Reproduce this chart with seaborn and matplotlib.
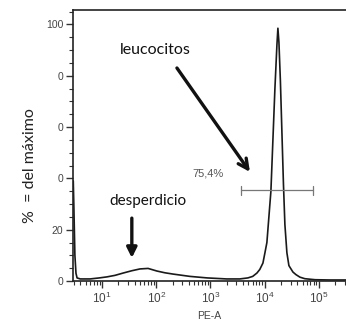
import matplotlib
matplotlib.use("Agg")
import matplotlib.pyplot as plt
import matplotlib.ticker as mticker
import seaborn as sns
import numpy as np
import pandas as pd

# PE-A histogram (x as log10 of PE-A, y as % of max)
pe_log = [0.47, 0.48, 0.50, 0.52, 0.54, 0.60, 0.78, 0.95, 1.09, 1.24, 1.39, 1.55,
          1.70, 1.85, 2.01, 2.16, 2.31, 2.62, 2.94, 3.30, 3.54, 3.69, 3.78, 3.857,
          3.91, 3.968, 4.005, 4.041, 4.078, 4.115, 4.152, 4.189, 4.226, 4.244,
          4.263, 4.290, 4.318, 4.346, 4.373, 4.410, 4.447, 4.521, 4.576, 4.65,
          4.74, 4.93, 5.20, 5.50]
pct_max = [39, 30, 10, 3.0, 1.2, 0.8, 0.8, 1.2, 1.6, 2.2, 3.1, 4.0,
           4.7, 4.9, 3.9, 3.2, 2.7, 1.8, 1.2, 0.8, 0.8, 1.2, 1.8, 3.1,
           4.5, 7.0, 11, 15, 25, 35, 55, 75, 92, 98.5,
           93, 78, 58, 38, 22, 11, 6.0, 3.5, 2.5, 1.5,
           0.9, 0.5, 0.4, 0.4]

gate_lo, gate_hi, gate_y = 3650, 77400, 35.4
gate_label = "75,4%"

ytick_vals = [0, 20, 40, 60, 80, 100]
ytick_labels = ["0", "20", "0", "0", "0", "100"]
xtick_vals = [1e1, 1e2, 1e3, 1e4, 1e5]

sns.set_style("ticks")
plt.rcParams['font.family'] = ['Liberation Sans', 'DejaVu Sans']
plt.rcParams['mathtext.fontset'] = 'custom'
plt.rcParams['mathtext.rm'] = 'Liberation Sans'
plt.rcParams['mathtext.it'] = 'Liberation Sans'

df = pd.DataFrame({"pe": 10 ** np.array(pe_log), "pct": pct_max})

fig = plt.figure(figsize=(3.46, 3.32), dpi=100)
ax = fig.add_axes([73 / 346, 1 - 281 / 332, 1 - 73 / 346, 271 / 332])

sns.lineplot(data=df, x="pe", y="pct", sort=False, color="#1a1a1a", lw=1.2, ax=ax)

ax.set_xscale("log")
ax.set_xlim(10 ** 0.465, 10 ** 5.5)
ax.set_ylim(0, 105.6)

ax.set_xticks(xtick_vals)
ax.xaxis.set_major_formatter(mticker.LogFormatterSciNotation())
ax.xaxis.set_minor_locator(mticker.LogLocator(base=10, subs=np.arange(2, 10)))
ax.xaxis.set_minor_formatter(mticker.NullFormatter())
ax.set_yticks(ytick_vals)
ax.set_yticklabels(ytick_labels)
ax.yaxis.set_minor_locator(mticker.MultipleLocator(5))

ax.tick_params(axis="both", which="major", direction="out", length=5, width=1,
               color="#333333", labelcolor="#444444", labelsize=7.5, pad=2)
ax.tick_params(axis="both", which="minor", direction="out", length=3, width=0.8,
               color="#333333")
ax.tick_params(axis="x", labelsize=8.5)

for side in ["left", "bottom", "top"]:
    ax.spines[side].set_linewidth(1.2)
    ax.spines[side].set_color("#222222")
ax.spines["right"].set_visible(False)

ax.set_xlabel("PE-A", fontsize=7.5, color="#444444", labelpad=4)
ax.set_ylabel("")
fig.text(30 / 346, 1 - 166 / 332, "%  = del máximo", rotation=90, ha="center",
         va="center", fontsize=11.5, color="#222222", family=["Lato", "DejaVu Sans"])

# gate marker
ax.plot([gate_lo, gate_hi], [gate_y, gate_y], color="#777777", lw=0.9)
for gx in [gate_lo, gate_hi]:
    ax.plot([gx, gx], [gate_y - 1.8, gate_y + 1.8], color="#777777", lw=0.9)
ax.text(10 ** 2.95, 42, gate_label, ha="center", va="center", fontsize=8,
        color="#555555")

# annotations
ax.annotate("", xy=(10 ** 3.728, 42.5), xytext=(10 ** 2.382, 83),
            arrowprops=dict(arrowstyle="->,head_length=0.7,head_width=0.35",
                            lw=2.4, color="#111111", shrinkA=0, shrinkB=0))
ax.text(10 ** 1.99, 90, "leucocitos", ha="center", va="center", fontsize=11.5,
        color="#111111", family=["Lato", "DejaVu Sans"])
ax.annotate("", xy=(10 ** 1.55, 9), xytext=(10 ** 1.55, 24.5),
            arrowprops=dict(arrowstyle="-|>,head_length=0.6,head_width=0.3",
                            lw=2.4, color="#111111", shrinkA=0, shrinkB=0))
ax.text(10 ** 1.85, 31, "desperdicio", ha="center", va="center", fontsize=11,
        color="#111111", family=["Lato", "DejaVu Sans"])

fig.savefig("out.png", dpi=100)
